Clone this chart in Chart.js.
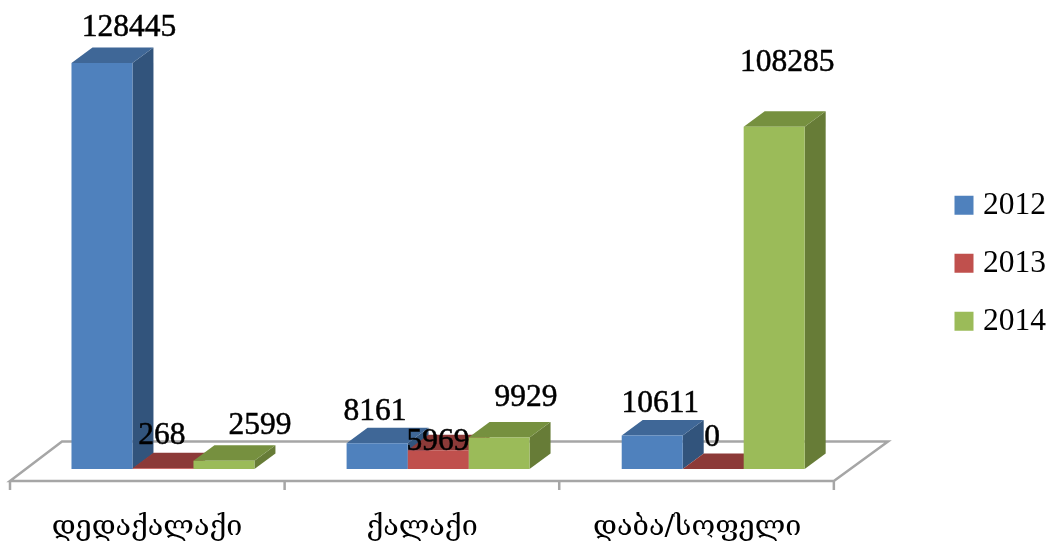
<!DOCTYPE html>
<html>
<head>
<meta charset="utf-8">
<script src="https://cdn.jsdelivr.net/npm/chart.js@4/dist/chart.umd.min.js"></script>
<style>
html, body { margin: 0; padding: 0; background: #fff; }
#wrap { width: 1050px; height: 544px; }
</style>
</head>
<body>
<div id="wrap"><canvas id="chart"></canvas></div>
<script>
// Chart data
const categories = ['დედაქალაქი', 'ქალაქი', 'დაბა/სოფელი'];
const years = ['2012', '2013', '2014'];
const values2012 = [128445, 8161, 10611];
const values2013 = [268, 5969, 0];
const values2014 = [2599, 9929, 108285];

// Colours per series: front, top, side
const frontColors = ['#4f81bd', '#c0504d', '#9bbb59'];
const topColors = ['#3f6797', '#8c3a38', '#76903f'];
const sideColors = ['#32547c', '#7c2f2d', '#677c37'];

// Label nudges from the top centre of each bar [dx, dy], by series then category
const labelOffsets = [
    [[27, -35], [-2, -31], [8, -32]],
    [[-1, -32], [0, -8], [-1, -31]],
    [[36, -35], [27, -40], [13, -64]]
];

const DEPTH_X = 21;
const DEPTH_Y = 15.5;
const NUMBER_FONT = '"Liberation Serif", serif';

function poly(ctx, color, pts) {
    ctx.fillStyle = color;
    ctx.beginPath();
    pts.forEach((p, i) => i ? ctx.lineTo(p[0], p[1]) : ctx.moveTo(p[0], p[1]));
    ctx.closePath();
    ctx.fill();
}

// Floor, bar tops and sides go under the native bar fronts, labels go over them
const bars3d = {
    id: 'bars3d',
    afterLayout(chart) {
        // legend sits a bit above the middle of the canvas
        chart.legend.top -= 22;
        chart.legend.bottom -= 22;
    },
    beforeDatasetsDraw(chart) {
        const ctx = chart.ctx;
        const base = chart.scales.y.getPixelForValue(0);
        const left = chart.scales.x.left;
        const right = chart.scales.x.right;
        const step = (right - left) / categories.length - 0.5;
        const frontY = base + 12;
        const backY = base - 27.5;
        const x0 = left - 15.4;

        ctx.save();
        ctx.strokeStyle = '#a6a6a6';
        ctx.lineWidth = 2.5;
        ctx.lineJoin = 'miter';
        ctx.beginPath();
        ctx.moveTo(x0, frontY);
        ctx.lineTo(x0 + 52, backY);
        ctx.lineTo(x0 + 878, backY);
        ctx.lineTo(x0 + 3 * step, frontY);
        ctx.closePath();
        ctx.stroke();
        ctx.beginPath();
        for (let i = 0; i <= categories.length; i++) {
            ctx.moveTo(x0 + i * step, frontY);
            ctx.lineTo(x0 + i * step, frontY + 9);
        }
        ctx.stroke();

        categories.forEach((c, j) => {
            years.forEach((y, i) => {
                const bar = chart.getDatasetMeta(i).data[j];
                const l = bar.x - bar.width / 2;
                const r = bar.x + bar.width / 2;
                poly(ctx, sideColors[i], [[r, bar.y], [r + DEPTH_X, bar.y - DEPTH_Y], [r + DEPTH_X, bar.base - DEPTH_Y], [r, bar.base]]);
                poly(ctx, topColors[i], [[l, bar.y], [l + DEPTH_X, bar.y - DEPTH_Y], [r + DEPTH_X, bar.y - DEPTH_Y], [r, bar.y]]);
            });
        });
        ctx.restore();
    },
    afterDatasetsDraw(chart) {
        const ctx = chart.ctx;
        ctx.save();
        ctx.font = '31.5px ' + NUMBER_FONT;
        ctx.fillStyle = '#000';
        ctx.strokeStyle = '#000';
        ctx.lineWidth = 0.5;
        ctx.textAlign = 'center';
        ctx.textBaseline = 'middle';
        chart.data.datasets.forEach((ds, i) => {
            ds.data.forEach((v, j) => {
                const bar = chart.getDatasetMeta(i).data[j];
                const off = labelOffsets[i][j];
                ctx.fillText(String(v), bar.x + off[0], bar.y + off[1]);
                ctx.strokeText(String(v), bar.x + off[0], bar.y + off[1]);
            });
        });
        ctx.restore();
    }
};

new Chart(document.getElementById('chart'), {
    type: 'bar',
    data: {
        labels: categories,
        datasets: [values2012, values2013, values2014].map((vals, i) => ({
            label: years[i],
            data: vals,
            backgroundColor: frontColors[i],
            borderWidth: 0,
            barPercentage: 1,
            categoryPercentage: 0.665
        }))
    },
    plugins: [bars3d],
    options: {
        responsive: true,
        maintainAspectRatio: false,
        animation: false,
        layout: { padding: { left: 25.4, top: 26.5, right: -6, bottom: 0 } },
        plugins: {
            tooltip: { enabled: false },
            legend: {
                position: 'right',
                labels: {
                    usePointStyle: true,
                    pointStyle: 'rect',
                    boxWidth: 6.5,
                    boxHeight: 19,
                    padding: 26.5,
                    color: '#000',
                    font: { family: NUMBER_FONT, size: 31.5 }
                }
            }
        },
        scales: {
            x: {
                grid: { display: false },
                border: { display: false },
                ticks: {
                    color: '#000',
                    padding: 33,
                    labelOffset: -16,
                    autoSkip: false,
                    maxRotation: 0,
                    font: { family: '"DejaVu Serif", "DejaVu Sans", sans-serif', size: 28.7 }
                },
                afterFit(scale) { scale.height = 75; }
            },
            y: {
                position: 'right',
                min: 0,
                max: 140000,
                grid: { display: false },
                border: { display: false },
                ticks: { display: false },
                afterFit(scale) { scale.width = 83.5; }
            }
        }
    }
});
</script>
</body>
</html>
